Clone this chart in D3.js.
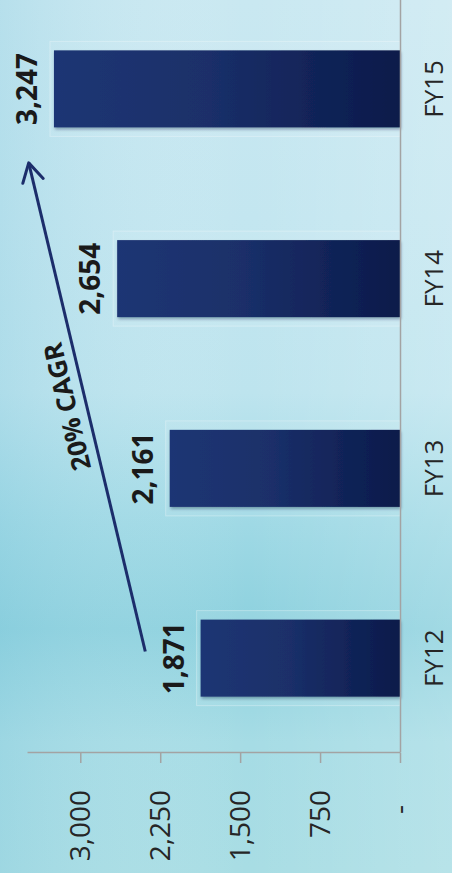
<!DOCTYPE html>
<html>
<head>
<meta charset="utf-8">
<script src="https://cdn.jsdelivr.net/npm/d3@7"></script>
<style>
  html, body { margin: 0; padding: 0; background: #c6e7ef; }
  svg { display: block; }
  text { font-family: "Open Sans", "Noto Sans", sans-serif; }
</style>
</head>
<body>
<svg id="chart" width="452" height="873"></svg>
<script>
// Revenue by fiscal year
const categories = ["FY12", "FY13", "FY14", "FY15"];
const revenue = [1871, 2161, 2654, 3247];
const valueTicks = [0, 750, 1500, 2250, 3000];
const valueMax = 3500;
const cagrLabel = "20% CAGR";
// Growth arrow ends, in data terms: category, fraction of a step past its centre, value
const cagrFrom = { cat: "FY12", shift: 0.035, value: 2390 };
const cagrTo = { cat: "FY14", shift: 0.61, value: 3484 };

const plot = { left: 120, right: 879, top: 27, bottom: 400 };

const svg = d3.select("#chart");
const defs = svg.append("defs");

// Background wash
const bgV = defs.append("linearGradient").attr("id", "bgV")
  .attr("x1", 0).attr("y1", 0).attr("x2", 0).attr("y2", 1);
[["0%", "#c9e8f1"], ["25%", "#c3e6f0"], ["45%", "#bde4ee"], ["60%", "#9fd9e5"],
 ["72%", "#8dd1de"], ["85%", "#a6dce5"], ["100%", "#a8dde4"]]
  .forEach(([o, c]) => bgV.append("stop").attr("offset", o).attr("stop-color", c));
const bgH = defs.append("linearGradient").attr("id", "bgH")
  .attr("x1", 0).attr("y1", 0).attr("x2", 1).attr("y2", 0);
bgH.append("stop").attr("offset", "0%").attr("stop-color", "#7fc6dc").attr("stop-opacity", 0.25);
bgH.append("stop").attr("offset", "55%").attr("stop-color", "#ffffff").attr("stop-opacity", 0.0);
bgH.append("stop").attr("offset", "100%").attr("stop-color", "#ffffff").attr("stop-opacity", 0.18);

svg.append("rect").attr("width", 452).attr("height", 873).attr("fill", "url(#bgV)");
svg.append("rect").attr("width", 452).attr("height", 873).attr("fill", "url(#bgH)");

// Bar fill: lighter at the value end, darker at the baseline
const barGrad = defs.append("linearGradient").attr("id", "barGrad")
  .attr("x1", 0).attr("y1", 0).attr("x2", 0).attr("y2", 1);
[["0%", "#1e3674"], ["45%", "#1a2f69"], ["100%", "#0a1a4a"]]
  .forEach(([o, c]) => barGrad.append("stop").attr("offset", o).attr("stop-color", c));

const shadow = defs.append("filter").attr("id", "barShadow")
  .attr("x", "-20%").attr("y", "-20%").attr("width", "140%").attr("height", "140%");
shadow.append("feDropShadow").attr("dx", -2).attr("dy", 1).attr("stdDeviation", 1.5)
  .attr("flood-color", "#0a1a3a").attr("flood-opacity", 0.35);

defs.append("marker").attr("id", "arrowHead")
  .attr("viewBox", "-22 -13 26 26").attr("refX", 0).attr("refY", 0)
  .attr("markerWidth", 26).attr("markerHeight", 26)
  .attr("markerUnits", "userSpaceOnUse").attr("orient", "auto")
  .append("path").attr("d", "M-18.5,-10.5 L0,0 L-18.5,10.5")
  .attr("fill", "none").attr("stroke", "#1c2d6b").attr("stroke-width", 3)
  .attr("stroke-linecap", "round").attr("stroke-linejoin", "round");

// The whole chart is drawn upright and turned a quarter turn counter-clockwise
const g = svg.append("g").attr("transform", `translate(0,${873}) rotate(-90)`);

const x = d3.scaleBand().domain(categories).range([plot.left, plot.right])
  .paddingInner(0.594).paddingOuter(0.297);
const y = d3.scaleLinear().domain([0, valueMax]).range([plot.bottom, plot.top]);

const fmt = d3.format(",");

// Bars with a pale frame behind them
const bars = g.append("g").selectAll("g").data(categories).join("g");
bars.append("rect")
  .attr("x", d => x(d) - 9).attr("width", x.bandwidth() + 18)
  .attr("y", (d, i) => y(revenue[i]) - 4)
  .attr("height", (d, i) => plot.bottom - y(revenue[i]) + 4)
  .attr("fill", "#ffffff").attr("fill-opacity", 0.08)
  .attr("stroke", "#ffffff").attr("stroke-opacity", 0.3).attr("stroke-width", 1);
bars.append("rect")
  .attr("x", d => x(d)).attr("width", x.bandwidth())
  .attr("y", (d, i) => y(revenue[i]))
  .attr("height", (d, i) => plot.bottom - y(revenue[i]))
  .attr("fill", "url(#barGrad)").attr("filter", "url(#barShadow)");

// Value axis
const yAxis = g.append("g").attr("transform", `translate(${plot.left},0)`)
  .call(d3.axisLeft(y).tickValues(valueTicks).tickSize(10).tickSizeOuter(0)
    .tickPadding(27).tickFormat(v => v === 0 ? "-" : fmt(v)));
yAxis.select(".domain").attr("stroke", "#a3a3a3").attr("stroke-width", 1.5);
yAxis.selectAll(".tick line").attr("stroke", "#a3a3a3").attr("stroke-width", 1.5);
yAxis.selectAll(".tick text")
  .attr("font-size", 28).attr("fill", "#262626")
  .attr("font-family", "'Open Sans', 'Noto Sans', sans-serif")
  .attr("dx", v => v === 0 ? -15 : 0);

// Category axis
const xAxis = g.append("g").attr("transform", `translate(0,${plot.bottom})`)
  .call(d3.axisBottom(x).tickSize(0).tickSizeOuter(0).tickPadding(25));
xAxis.select(".domain").attr("stroke", "#a3a3a3").attr("stroke-width", 1.5);
xAxis.selectAll(".tick text")
  .attr("font-size", 26).attr("fill", "#262626")
  .attr("font-family", "'Open Sans', 'Noto Sans', sans-serif");

// Value labels above the bars
g.append("g").selectAll("text").data(categories).join("text")
  .attr("x", d => x(d) + x.bandwidth() / 2)
  .attr("y", (d, i) => y(revenue[i]) - 17)
  .attr("text-anchor", "middle")
  .attr("font-size", 28).attr("font-weight", 700).attr("fill", "#1a1a1a")
  .text((d, i) => fmt(revenue[i]));

// Growth arrow and its label
const pos = p => [x(p.cat) + x.bandwidth() / 2 + p.shift * x.step(), y(p.value)];
const [ax0, ay0] = pos(cagrFrom);
const [ax1, ay1] = pos(cagrTo);
g.append("line")
  .attr("x1", ax0).attr("y1", ay0).attr("x2", ax1).attr("y2", ay1)
  .attr("stroke", "#1c2d6b").attr("stroke-width", 3)
  .attr("marker-end", "url(#arrowHead)");

const t = 0.51;
const mx = ax0 + (ax1 - ax0) * t, my = ay0 + (ay1 - ay0) * t;
const ang = Math.atan2(ay1 - ay0, ax1 - ax0) * 180 / Math.PI;
g.append("text")
  .attr("transform", `translate(${mx},${my}) rotate(${ang})`)
  .attr("y", -10).attr("text-anchor", "middle")
  .attr("font-size", 26).attr("font-weight", 700).attr("fill", "#1a1a1a")
  .text(cagrLabel);
</script>
</body>
</html>
